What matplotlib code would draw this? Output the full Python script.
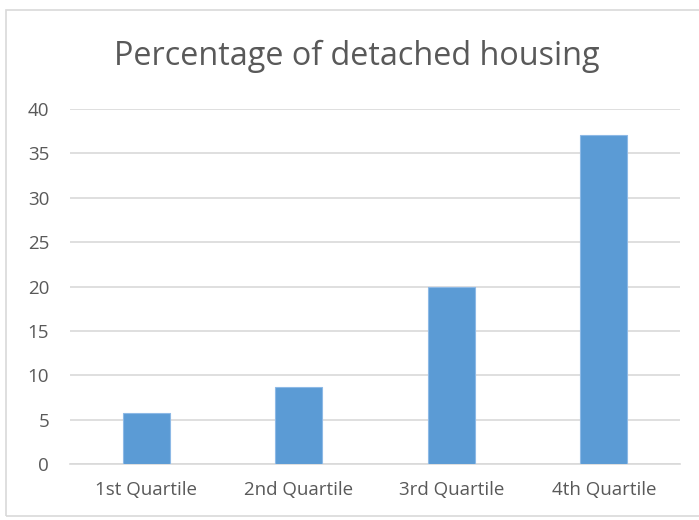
import matplotlib
matplotlib.use('Agg')
import matplotlib.pyplot as plt
from matplotlib.patches import Rectangle

# data
categories = ['1st Quartile', '2nd Quartile', '3rd Quartile', '4th Quartile']
values = [5.7, 8.65, 20.0, 37.07]
yticks = [0, 5, 10, 15, 20, 25, 30, 35, 40]

BAR = '#5B9BD5'
GRID = '#D9D9D9'
TEXT = '#595959'

plt.rcParams['font.family'] = ['Open Sans', 'DejaVu Sans']

W, H = 699, 520
fig = plt.figure(figsize=(W / 100, H / 100), dpi=100)
fig.patch.set_facecolor('white')

# outer chart frame
fig.patches.append(Rectangle((6 / W, 4 / H), (W - 4) / W, (H - 14) / H,
                             transform=fig.transFigure, fill=False,
                             edgecolor=GRID, linewidth=1.2))

ax = fig.add_axes([70 / W, 1 - 464 / H, 610 / W, (464 - 109) / H])
x = range(len(categories))
ax.bar(x, values, width=0.31, color=BAR, edgecolor='#8DB9E6', linewidth=0.8, zorder=3)

ax.set_xlim(-0.5, len(categories) - 0.5)
ax.set_ylim(0, 40)
ax.set_yticks(yticks)
ax.set_yticklabels([str(t) for t in yticks])
ax.set_xticks(list(x))
ax.set_xticklabels(categories)

ax.grid(axis='y', color=GRID, linewidth=1.2, zorder=0)
for s in ['top', 'right', 'left']:
    ax.spines[s].set_visible(False)
ax.spines['bottom'].set_color(GRID)
ax.spines['bottom'].set_linewidth(1.2)
ax.tick_params(axis='both', length=0, colors=TEXT, labelsize=13.5)
ax.tick_params(axis='y', pad=15)
ax.tick_params(axis='x', pad=12)

fig.text(357 / W, 1 - 56 / H, 'Percentage of detached housing',
         ha='center', va='center', fontsize=23.3, color=TEXT)

fig.savefig('out.png', dpi=100, facecolor='white')
